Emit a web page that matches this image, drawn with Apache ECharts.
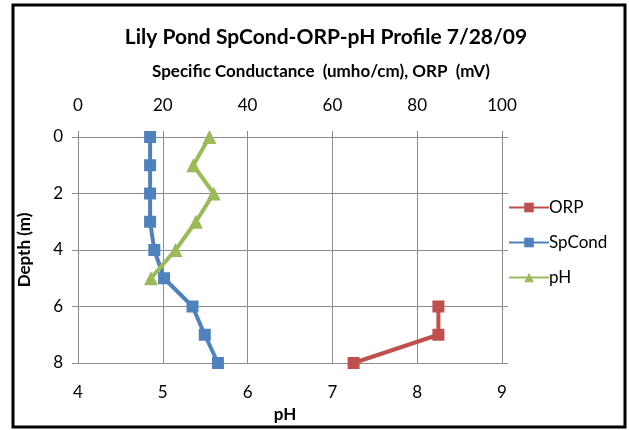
<!DOCTYPE html>
<html>
<head>
<meta charset="utf-8">
<script src="https://cdn.jsdelivr.net/npm/echarts@6/dist/echarts.min.js"></script>
<style>
  html, body { margin: 0; padding: 0; background: #fff; }
  #chart { width: 629px; height: 430px; }
</style>
</head>
<body>
<div id="chart"></div>
<script>
// depth profile
const depths = [0, 1, 2, 3, 4, 5, 6, 7, 8]
const spCond = [17, 17, 17, 17, 18, 20.3, 27, 29.9, 33]
const orpDepths = [6, 7, 8]
const orp = [85, 85, 65]
const phDepths = [0, 1, 2, 3, 4, 5]
const ph = [5.55, 5.36, 5.6, 5.39, 5.15, 4.86]

const font = 'Lato'
const grey = '#8c8c8c'

const chart = echarts.init(document.getElementById('chart'))

const pairs = (xs, ys) => xs.map((x, i) => [x, ys[i]])

const options = {
  animation: false,
  textStyle: { fontFamily: font },
  title: [
    {
      text: 'Lily Pond SpCond-ORP-pH Profile 7/28/09',
      left: 321,
      textAlign: 'center',
      top: 22,
      textStyle: { fontSize: 21, fontWeight: 'bold', color: '#000', fontFamily: font },
    },
    {
      text: 'Specific Conductance  (umho/cm), ORP  (mV)',
      left: 316,
      textAlign: 'center',
      top: 58,
      textStyle: { fontSize: 17, fontWeight: 'bold', color: '#000', fontFamily: font },
    },
  ],
  legend: {
    orient: 'vertical',
    left: 503,
    top: 194,
    itemWidth: 40,
    itemHeight: 12,
    itemGap: 18,
    data: ['ORP', 'SpCond', 'pH'],
    textStyle: { fontSize: 17, color: '#000', padding: [0, 0, 0, -5] },
  },
  grid: { left: 78, right: 127, top: 137, bottom: 67 },
  xAxis: [
    {
      type: 'value',
      position: 'top',
      min: 0,
      max: 100,
      interval: 20,
      axisLine: { show: true, lineStyle: { color: grey } },
      axisTick: { show: true, length: 6, lineStyle: { color: grey } },
      axisLabel: { fontSize: 17, color: '#000', margin: 23 },
      splitLine: { show: true, lineStyle: { color: grey } },
    },
    {
      type: 'value',
      position: 'bottom',
      min: 4,
      max: 9,
      interval: 1,
      name: 'pH',
      nameLocation: 'middle',
      nameGap: 39,
      nameTextStyle: { fontSize: 17, fontWeight: 'bold', color: '#000', padding: [0, 10, 0, 0] },
      axisLine: { show: false },
      axisTick: { show: false },
      axisLabel: { fontSize: 17, color: '#000', margin: 21 },
      splitLine: { show: false },
    },
  ],
  yAxis: [
    {
      type: 'value',
      inverse: true,
      min: 0,
      max: 8,
      interval: 2,
      name: 'Depth (m)',
      nameLocation: 'middle',
      nameGap: 45,
      nameTextStyle: { fontSize: 17, fontWeight: 'bold', color: '#000' },
      axisLine: { show: true, lineStyle: { color: grey } },
      axisTick: { show: true, length: 6, lineStyle: { color: grey } },
      axisLabel: { fontSize: 17, color: '#000', margin: 15 },
      splitLine: { show: true, lineStyle: { color: grey } },
    },
    {
      type: 'value',
      position: 'right',
      inverse: true,
      min: 0,
      max: 8,
      interval: 2,
      axisLine: { show: true, lineStyle: { color: grey } },
      axisTick: { show: true, length: 6, lineStyle: { color: grey } },
      axisLabel: { show: false },
      splitLine: { show: false },
    },
  ],
  series: [
    {
      name: 'ORP',
      type: 'line',
      xAxisIndex: 0,
      yAxisIndex: 0,
      data: pairs(orp, orpDepths),
      symbol: 'rect',
      symbolSize: 12,
      color: '#c0504d',
      lineStyle: { width: 4 },
    },
    {
      name: 'SpCond',
      type: 'line',
      xAxisIndex: 0,
      yAxisIndex: 0,
      data: pairs(spCond, depths),
      symbol: 'rect',
      symbolSize: 12,
      color: '#4f81bd',
      lineStyle: { width: 4 },
    },
    {
      name: 'pH',
      type: 'line',
      xAxisIndex: 1,
      yAxisIndex: 0,
      data: pairs(ph, phDepths),
      symbol: 'triangle',
      symbolSize: 14,
      color: '#9bbb59',
      lineStyle: { width: 4 },
    },
  ],
  graphic: [
    {
      type: 'rect',
      shape: { x: 13, y: 5, width: 612, height: 422 },
      style: { fill: 'none', stroke: '#000', lineWidth: 3 },
    },
  ],
}

chart.setOption(options)
</script>
</body>
</html>
